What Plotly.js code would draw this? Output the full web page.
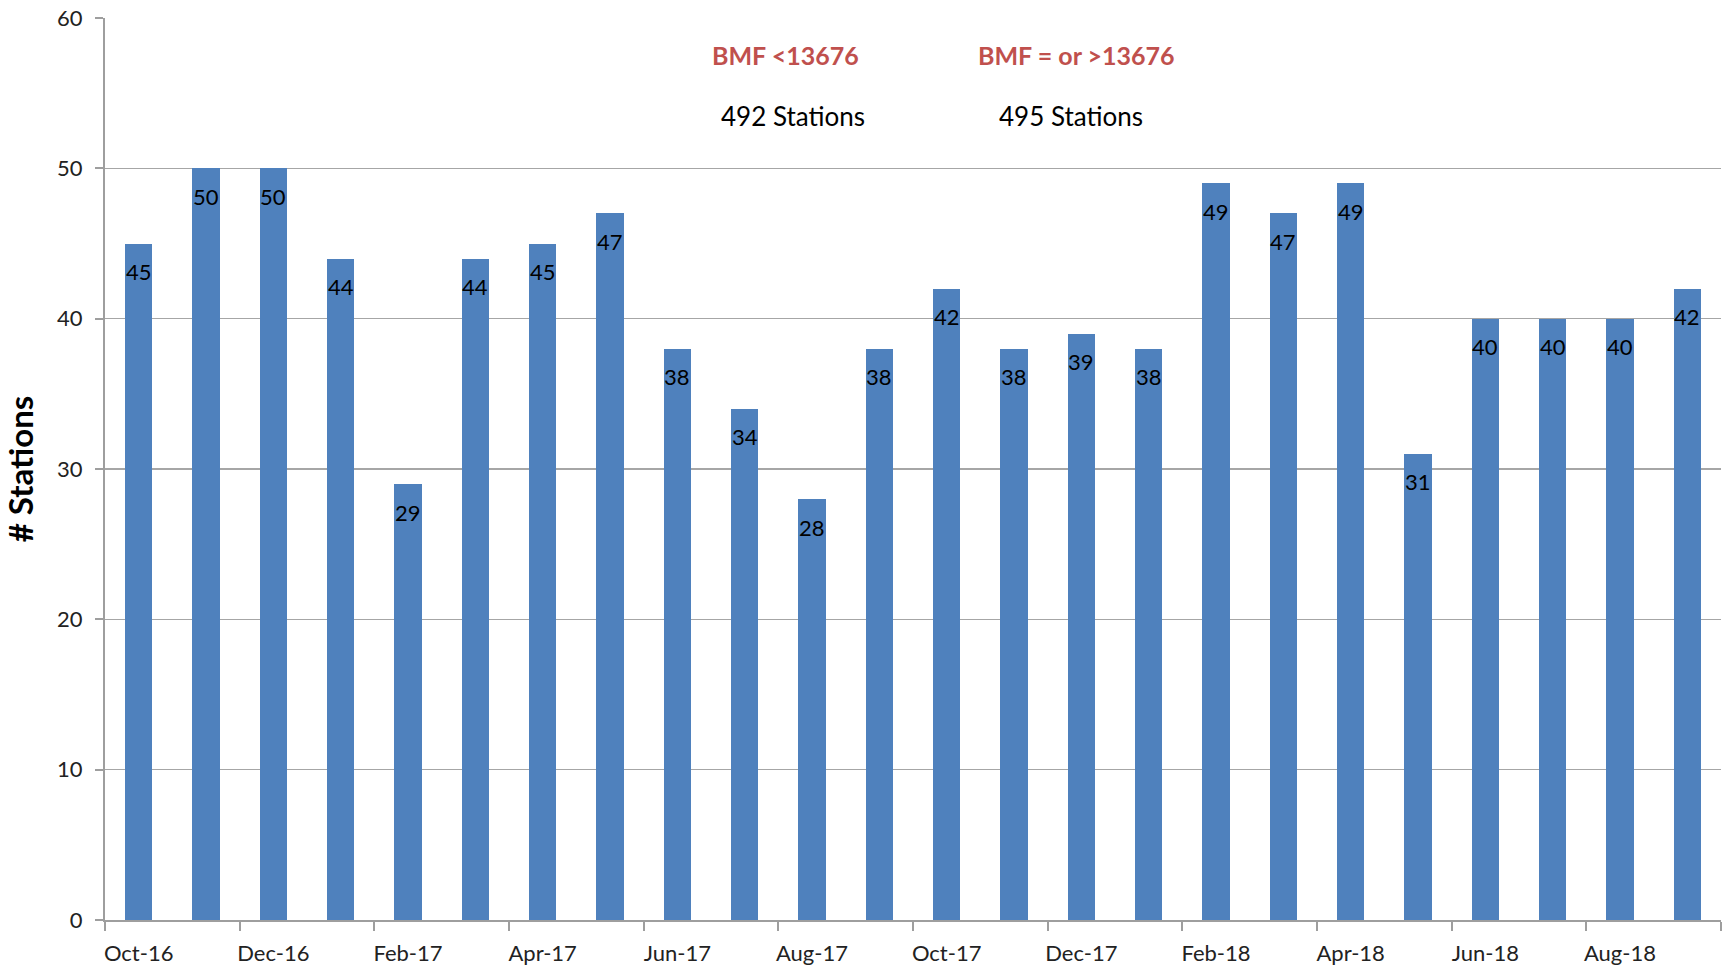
<!DOCTYPE html>
<html>
<head>
<meta charset="utf-8">
<script src="https://cdn.plot.ly/plotly-3.0.1.min.js"></script>
<style>html,body{margin:0;padding:0;background:#fff;}#chart{width:1730px;height:969px;}</style>
</head>
<body>
<div id="chart"></div>
<script>
const months = ["Oct-16","Nov-16","Dec-16","Jan-17","Feb-17","Mar-17","Apr-17","May-17","Jun-17","Jul-17","Aug-17","Sep-17","Oct-17","Nov-17","Dec-17","Jan-18","Feb-18","Mar-18","Apr-18","May-18","Jun-18","Jul-18","Aug-18","Sep-18"];
const stations = [45,50,50,44,29,44,45,47,38,34,28,38,42,38,39,38,49,47,49,31,40,40,40,42];
const noteTitles = ["BMF <13676","BMF = or >13676"];
const noteCounts = ["492 Stations","495 Stations"];

const FONT = "Lato, 'Open Sans', sans-serif";
const idx = months.map((m,i)=>i);
const labelIdx = idx.filter(i => i % 2 === 0);
const boundaries = [];
for (let b = -0.5; b <= months.length - 0.5; b += 2) boundaries.push(b);

const trace = {
  type: 'bar',
  x: idx,
  y: stations,
  width: 0.41,
  marker: {color: '#4F81BD', line: {width: 0}},
  hoverinfo: 'x+y'
};

const valueLabels = stations.map((v,i)=>({
  x: i, y: v, xref: 'x', yref: 'y', text: String(v), showarrow: false,
  yanchor: 'middle', yshift: -28, font: {family: FONT, size: 22, color: '#000'}
}));

const notePos = [0.421, 0.601];
const countPos = [0.426, 0.598];
const notes = [];
noteTitles.forEach((t,i)=>notes.push({x: notePos[i], y: 0.959, xref:'paper', yref:'paper', xanchor:'center', yanchor:'middle', text: '<b>'+t+'</b>', showarrow:false, font:{family: FONT, size: 25, color:'#C0504D'}}));
noteCounts.forEach((t,i)=>notes.push({x: countPos[i], y: 0.891, xref:'paper', yref:'paper', xanchor:'center', yanchor:'middle', text: t, showarrow:false, font:{family: FONT, size: 26, color:'#000'}}));

const layout = {
  width: 1730, height: 969,
  margin: {l: 105, r: 9, t: 18, b: 49},
  paper_bgcolor: '#fff', plot_bgcolor: '#fff',
  showlegend: false,
  bargap: 0,
  xaxis: {
    range: [-0.5, months.length - 0.5],
    tickmode: 'array',
    tickvals: labelIdx,
    ticktext: labelIdx.map(i => months[i]),
    ticks: '',
    showgrid: false,
    zeroline: false,
    showline: true, linecolor: '#9E9E9E', linewidth: 2,
    tickfont: {family: FONT, size: 22, color: '#222'},
    ticklabelstandoff: 13,
    minor: {tickmode: 'array', tickvals: boundaries, ticks: 'outside', ticklen: 9, tickwidth: 2, tickcolor: '#9E9E9E', showgrid: false}
  },
  yaxis: {
    range: [0, 60],
    tickmode: 'linear', tick0: 0, dtick: 10,
    ticks: 'outside', ticklen: 8, tickwidth: 2, tickcolor: '#9E9E9E',
    showgrid: true, gridcolor: '#A6A6A6', gridwidth: 1.5,
    zeroline: false,
    showline: true, linecolor: '#9E9E9E', linewidth: 2,
    tickfont: {family: FONT, size: 22, color: '#222'},
    ticklabelstandoff: 8,
    title: {text: '<b># Stations</b>', font: {family: FONT, size: 33, color: '#000'}, standoff: 14}
  },
  annotations: valueLabels.concat(notes)
};

Plotly.newPlot('chart', [trace], layout, {displayModeBar: false, staticPlot: true});
</script>
</body>
</html>
